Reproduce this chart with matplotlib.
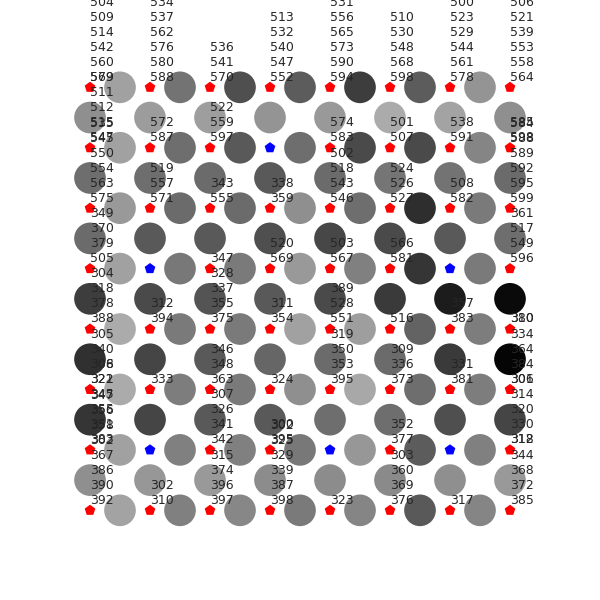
import numpy as np
import matplotlib
matplotlib.use("Agg")
import matplotlib.pyplot as plt

# =========================
# 1. Lattice data
# =========================
n_cols = 8
n_rows = 8

# nodes drawn in blue (row, col); every other node is red
blue_nodes = [(1, 3), (3, 1), (3, 6), (6, 1), (6, 4), (6, 6)]

# grey level of the circles on horizontal links (row, between col i and i+1)
h_link_grey = [
    [0.63, 0.45, 0.31, 0.36, 0.24, 0.36, 0.58],
    [0.63, 0.43, 0.35, 0.43, 0.29, 0.29, 0.52],
    [0.60, 0.42, 0.42, 0.56, 0.43, 0.18, 0.48],
    [0.63, 0.47, 0.48, 0.60, 0.50, 0.21, 0.48],
    [0.67, 0.48, 0.48, 0.63, 0.62, 0.39, 0.49],
    [0.67, 0.49, 0.48, 0.56, 0.66, 0.43, 0.49],
    [0.63, 0.50, 0.50, 0.47, 0.59, 0.36, 0.50],
    [0.64, 0.50, 0.53, 0.48, 0.52, 0.35, 0.52],
]

# grey level of the circles on vertical links (between row j and j+1, col)
v_link_grey = [
    [0.56, 0.61, 0.62, 0.58, 0.60, 0.67, 0.64, 0.56],
    [0.43, 0.43, 0.42, 0.35, 0.42, 0.46, 0.45, 0.42],
    [0.42, 0.35, 0.35, 0.31, 0.28, 0.29, 0.35, 0.43],
    [0.24, 0.29, 0.33, 0.35, 0.29, 0.23, 0.11, 0.04],
    [0.19, 0.27, 0.35, 0.40, 0.42, 0.42, 0.23, 0.02],
    [0.21, 0.27, 0.35, 0.35, 0.43, 0.43, 0.31, 0.27],
    [0.56, 0.59, 0.60, 0.55, 0.55, 0.54, 0.56, 0.60],
]

# number lists written above each node (row, col)
node_labels = {
    (0, 0): ["504", "509", "514", "542", "560", "579"],
    (1, 0): ["511", "512", "515", "547"],
    (2, 0): ["535", "545", "550", "554", "563", "575"],
    (3, 0): ["349", "370", "379", "505"],
    (4, 0): ["304", "318", "378", "388"],
    (5, 0): ["305", "340", "306", "321"],
    (6, 0): ["308", "322", "345", "355", "351", "383"],
    (7, 0): ["347", "356", "358", "302", "367", "386", "390", "392"],

    (0, 1): ["534", "537", "562", "576", "580", "588"],
    (1, 1): ["572", "587"],
    (2, 1): ["519", "557", "571"],
    (4, 1): ["312", "394"],
    (5, 1): ["333"],
    (7, 1): ["302", "310"],

    (0, 2): ["536", "541", "570"],
    (1, 2): ["522", "559", "597"],
    (2, 2): ["343", "555"],
    (3, 2): ["347"],
    (4, 2): ["328", "337", "355", "375"],
    (5, 2): ["346", "348", "363"],
    (6, 2): ["307", "326", "341", "342"],
    (7, 2): ["315", "374", "396", "397"],

    (0, 3): ["513", "532", "540", "547", "552"],
    (2, 3): ["338", "359"],
    (3, 3): ["520", "569"],
    (4, 3): ["311", "354"],
    (5, 3): ["324"],
    (6, 3): ["300", "395"],
    (7, 3): ["302", "325", "329", "339", "387", "398"],

    (0, 4): ["531", "556", "565", "573", "590", "594"],
    (1, 4): ["574", "583"],
    (2, 4): ["502", "518", "543", "546"],
    (3, 4): ["503", "567"],
    (4, 4): ["389", "528", "551"],
    (5, 4): ["319", "350", "353", "395"],
    (7, 4): ["323"],

    (0, 5): ["510", "530", "548", "568", "598"],
    (1, 5): ["501", "507"],
    (2, 5): ["524", "526", "527"],
    (3, 5): ["566", "581"],
    (4, 5): ["516"],
    (5, 5): ["309", "336", "373"],
    (6, 5): ["352", "377"],
    (7, 5): ["303", "360", "369", "376"],

    (0, 6): ["500", "523", "529", "544", "561", "578"],
    (1, 6): ["538", "591"],
    (2, 6): ["508", "582"],
    (4, 6): ["357", "383"],
    (5, 6): ["331", "381"],
    (7, 6): ["317"],

    (0, 7): ["506", "521", "539", "553", "558", "564"],
    (1, 7): ["585", "598"],
    (2, 7): ["584", "588", "589", "592", "595", "599"],
    (3, 7): ["361", "517", "549", "596"],
    (4, 7): ["380"],
    (5, 7): ["334", "364", "384", "306"],
    (6, 7): ["314", "320", "330", "318"],
    (7, 7): ["344", "368", "372", "385"],
}

# second label sitting on the same node
extra_labels = {
    (0, 0): ["569"],
    (4, 7): ["310"],
    (5, 7): ["301"],
    (6, 7): ["312"],
}


# =========================
# 2. Figure
# =========================
fig = plt.figure(figsize=(6, 6), dpi=100)
ax = fig.add_axes([0, 0, 1, 1])

grey = plt.get_cmap("gray")

# horizontal link circles
for r in range(n_rows):
    for c in range(n_cols - 1):
        ax.scatter(c + 0.5, r, s=520, color=grey(h_link_grey[r][c]),
                   edgecolors="none", zorder=1)

# vertical link circles
for r in range(n_rows - 1):
    for c in range(n_cols):
        ax.scatter(c, r + 0.5, s=520, color=grey(v_link_grey[r][c]),
                   edgecolors="none", zorder=1)

# nodes
for r in range(n_rows):
    for c in range(n_cols):
        col = "blue" if (r, c) in blue_nodes else "red"
        ax.scatter(c, r, s=65, marker="p", color=col, edgecolors="none", zorder=2)

# labels
for labels in (node_labels, extra_labels):
    for (r, c), vals in labels.items():
        ax.text(c, r - 0.06, "\n".join(vals), ha="left", va="bottom",
                fontsize=9, color="0.15", zorder=3)

ax.set_xlim(-1.5, 8.5)
ax.set_ylim(8.484, -1.445)
ax.axis("off")

plt.savefig("out.png", dpi=100)
plt.close()
